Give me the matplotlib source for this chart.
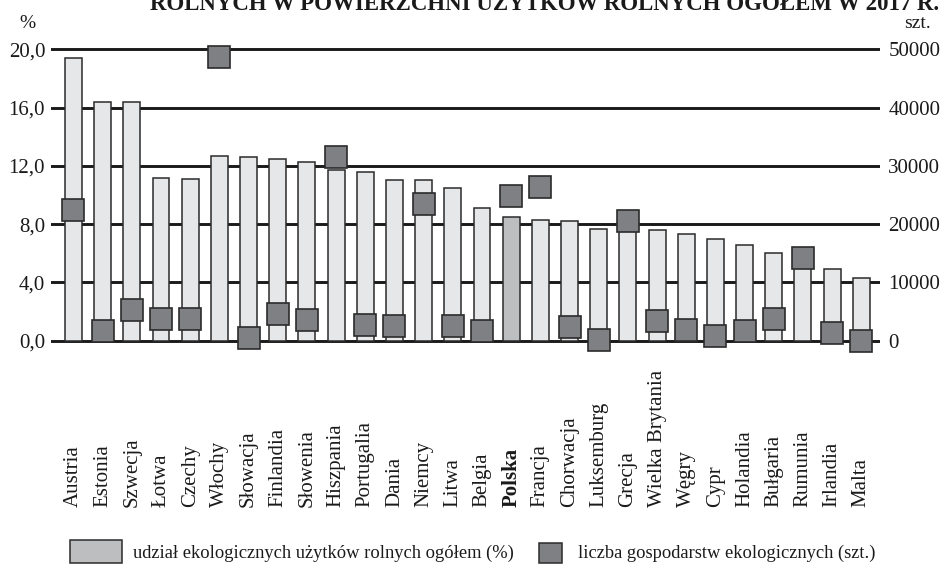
import numpy as np
import matplotlib.pyplot as plt
import matplotlib.patches as patches
import matplotlib.transforms as transforms

plt.rcParams['font.family'] = ['Liberation Serif', 'DejaVu Serif']

# --- Data (EU countries, 2017) ---
countries = ["Austria", "Estonia", "Szwecja", "Łotwa", "Czechy", "Włochy", "Słowacja",
             "Finlandia", "Słowenia", "Hiszpania", "Portugalia", "Dania", "Niemcy", "Litwa",
             "Belgia", "Polska", "Francja", "Chorwacja", "Luksemburg", "Grecja",
             "Wielka Brytania", "Węgry", "Cypr", "Holandia", "Bułgaria", "Rumunia",
             "Irlandia", "Malta"]

# share of organic agricultural land in total agricultural land (%)
share_pct = [19.4, 16.4, 16.4, 11.2, 11.1, 12.7, 12.6,
             12.5, 12.3, 11.7, 11.6, 11.0, 11.0, 10.5,
             9.1, 8.5, 8.3, 8.2, 7.7, 7.7,
             7.6, 7.3, 7.0, 6.6, 6.0, 5.6,
             4.9, 4.3]

# number of organic farms (units)
farms = [22500, 1700, 5300, 3700, 3800, 48600, 400,
         4600, 3500, 31500, 2700, 2600, 23400, 2600,
         1600, 24900, 26400, 2400, 100, 20500,
         3400, 1800, 800, 1700, 3800, 14200,
         1400, 10]

highlight = "Polska"

pct_ticks = [0, 4, 8, 12, 16, 20]
pct_labels = ["0,0", "4,0", "8,0", "12,0", "16,0", "20,0"]
farm_ticks = [0, 10000, 20000, 30000, 40000, 50000]

# --- Styles ---
bar_color = "#e6e7e9"
bar_hl_color = "#bdbec0"
edge_color = "#2b2b2b"
square_color = "#7f8083"

fig = plt.figure(figsize=(9.44, 5.65), dpi=100)
ax = fig.add_axes([0.0537, 0.3454, 0.8785, 0.606])

x = np.arange(len(countries))
ax.set_xlim(-0.78, len(countries) - 1 + 0.64)
ax.set_ylim(-2, 21.5)

# horizontal grid lines behind the bars
for t in pct_ticks:
    ax.axhline(t, color="#1a1a1a", linewidth=2.1, zorder=1)

colors = [bar_hl_color if c == highlight else bar_color for c in countries]
ax.bar(x, share_pct, width=0.58, color=colors, edgecolor=edge_color,
       linewidth=1.1, zorder=2)

ax.set_yticks(pct_ticks)
ax.set_yticklabels(pct_labels, fontsize=15, color="#1a1a1a")
ax.tick_params(axis="y", length=0, pad=4)
ax.set_xticks([])
for s in ax.spines.values():
    s.set_visible(False)

# right axis with the number of farms
ax2 = ax.twinx()
ax2.set_ylim(-2 * 2500, 21.5 * 2500)
ax2.plot(x, farms, linestyle="none", marker="s", markersize=16,
         markerfacecolor=square_color, markeredgecolor=edge_color,
         markeredgewidth=1.2, zorder=3)
ax2.set_yticks(farm_ticks)
ax2.set_yticklabels([str(v) for v in farm_ticks], fontsize=15, color="#1a1a1a")
ax2.tick_params(axis="y", length=0, pad=6)
for s in ax2.spines.values():
    s.set_visible(False)

# country names, vertical, aligned at their start
trans = transforms.blended_transform_factory(ax.transData, fig.transFigure)
for xi, name in zip(x, countries):
    ax.text(xi, 0.1027, name, rotation=90, ha="center", va="bottom",
            fontsize=15, transform=trans,
            fontweight="bold" if name == highlight else "normal",
            color="#1a1a1a")

# axis units
fig.text(27 / 944, 1 - 24 / 565, "%", ha="center", va="center", fontsize=14, color="#1a1a1a")
fig.text(917 / 944, 1 - 24 / 565, "szt.", ha="center", va="center", fontsize=14, color="#1a1a1a")

# title (runs off the top edge)
fig.text(545 / 944, 1 - 10 / 565,
         "ROLNYCH W POWIERZCHNI UŻYTKÓW ROLNYCH OGÓŁEM W 2017 R.",
         ha="center", va="baseline", fontsize=16.5, fontweight="bold", color="#1a1a1a")

# legend
fig.patches.append(patches.Rectangle((70 / 944, 2 / 565), 52 / 944, 23 / 565,
                                     transform=fig.transFigure, facecolor=bar_hl_color,
                                     edgecolor=edge_color, linewidth=1.1))
fig.text(133 / 944, 1 - 553 / 565, "udział ekologicznych użytków rolnych ogółem (%)",
         ha="left", va="center", fontsize=13.3, color="#1a1a1a")
fig.patches.append(patches.Rectangle((539 / 944, 2 / 565), 23 / 944, 20 / 565,
                                     transform=fig.transFigure, facecolor=square_color,
                                     edgecolor=edge_color, linewidth=1.1))
fig.text(578 / 944, 1 - 553 / 565, "liczba gospodarstw ekologicznych (szt.)",
         ha="left", va="center", fontsize=13.3, color="#1a1a1a")

fig.savefig("out.png", dpi=100)
